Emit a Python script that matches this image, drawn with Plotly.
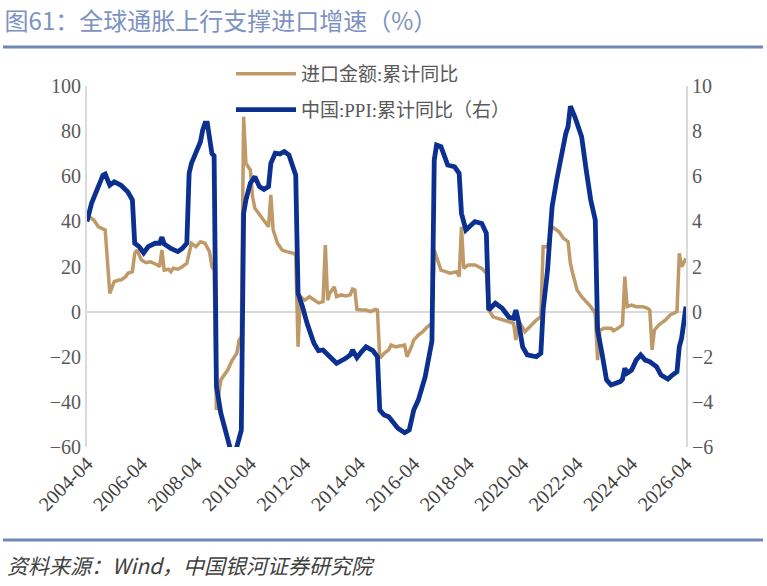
import plotly.graph_objects as go

# ---------------- data ----------------
imp_dates = ["2004-04","2004-07","2004-09","2004-11","2004-12","2005-02","2005-04","2005-06","2005-07","2005-09",
             "2005-10","2005-12","2006-01","2006-02","2006-04","2006-06","2006-08","2006-11","2006-12","2007-01",
             "2007-02","2007-04","2007-05","2007-06","2007-08","2007-10","2007-12","2008-02","2008-04","2008-06",
             "2008-08","2008-10","2008-11","2008-12","2009-01","2009-03","2009-05","2009-06","2009-08","2009-10",
             "2009-11","2009-12","2010-01","2010-02","2010-04","2010-05","2010-06","2010-09","2010-11","2010-12",
             "2011-01","2011-02","2011-04","2011-06","2011-08","2011-11","2011-12","2012-01","2012-02","2012-04",
             "2012-06","2012-08","2012-10","2012-12","2013-01","2013-02","2013-03","2013-05","2013-06","2013-08",
             "2013-10","2013-12","2014-01","2014-02","2014-03","2014-05","2014-07","2014-09","2014-11","2014-12",
             "2015-01","2015-03","2015-05","2015-06","2015-08","2015-12","2016-01","2016-03","2016-04","2016-06",
             "2016-08","2016-10","2016-12","2017-01","2017-03","2017-04","2017-06","2017-08","2017-11","2017-12",
             "2018-01","2018-02","2018-04","2018-07","2018-10","2018-12","2019-01","2019-03","2019-05","2019-08",
             "2019-10","2019-12","2020-01","2020-02","2020-03","2020-05","2020-07","2020-10","2020-12","2021-01",
             "2021-03","2021-05","2021-08","2021-10","2021-12","2022-01","2022-02","2022-04","2022-06","2022-08",
             "2022-10","2022-12","2023-01","2023-02","2023-04","2023-07","2023-08","2023-10","2023-12","2024-01",
             "2024-02","2024-04","2024-06","2024-09","2024-11","2024-12","2025-01","2025-02","2025-04","2025-07",
             "2025-09","2025-12","2026-01","2026-02","2026-03","2026-04"]
imp_vals = [42.8,40.6,37.6,36.9,36.2,8.1,13.3,14.0,14.0,15.5,
            17.0,17.7,25.8,27.3,22.9,21.7,22.1,20.7,19.9,27.3,
            18.4,18.8,17.7,19.2,18.8,19.9,21.4,30.3,28.8,31.0,
            30.3,26.5,19.9,18.5,-43.6,-30.3,-27.4,-25.9,-21.5,-18.5,
            -12.6,-11.1,86.4,65.7,62.8,50.9,45.8,41.4,39.1,37.6,
            51.7,36.2,30.3,27.3,26.6,25.8,25.0,-15.6,6.6,5.1,
            6.6,5.1,3.9,4.4,29.5,5.1,8.1,11.0,6.6,7.4,
            6.9,7.5,10.0,9.6,1.0,0.7,0.7,0.0,1.0,0.7,
            -20.7,-18.5,-17.0,-14.8,-15.6,-14.8,-20.0,-15.6,-12.6,-10.4,
            -8.9,-6.7,-5.2,27.3,21.4,18.4,17.7,17.0,17.7,15.5,
            37.6,19.2,20.7,20.7,19.2,17.0,0.7,-2.3,-3.0,-3.7,
            -4.5,-5.2,-12.6,-4.5,-5.2,-8.9,-6.7,-3.7,-2.3,28.8,
            28.8,37.6,35.4,32.5,31.0,21.4,17.0,9.6,6.6,4.4,
            2.2,-0.8,-21.5,-8.2,-7.4,-7.4,-8.5,-7.4,-5.9,15.5,
            2.2,2.9,2.2,2.2,1.5,0.7,-17.0,-8.2,-5.9,-3.7,
            -1.5,0.0,25.8,19.9,22.1,23.6]

ppi_dates = ["2004-04","2004-06","2004-11","2004-12","2005-02","2005-04","2005-07","2005-10","2005-12","2006-01",
             "2006-03","2006-05","2006-07","2006-10","2006-12","2007-01","2007-02","2007-05","2007-08","2007-10",
             "2007-12","2008-01","2008-02","2008-04","2008-06","2008-07","2008-08","2008-09","2008-11","2008-12",
             "2009-01","2009-03","2009-06","2009-08","2009-10","2009-12","2010-01","2010-02","2010-04","2010-06",
             "2010-08","2010-10","2010-12","2011-01","2011-03","2011-05","2011-07","2011-09","2011-12","2012-01",
             "2012-03","2012-05","2012-08","2012-10","2012-12","2013-03","2013-06","2013-10","2013-12","2014-01",
             "2014-03","2014-05","2014-07","2014-10","2014-12","2015-01","2015-03","2015-05","2015-07","2015-09",
             "2015-12","2016-02","2016-04","2016-06","2016-09","2016-11","2016-12","2017-01","2017-02","2017-04",
             "2017-07","2017-10","2017-12","2018-01","2018-03","2018-07","2018-10","2018-12","2019-01","2019-04",
             "2019-07","2019-10","2019-12","2020-01","2020-02","2020-04","2020-06","2020-10","2020-12","2021-01",
             "2021-03","2021-04","2021-05","2021-07","2021-09","2021-10","2021-11","2021-12","2022-01","2022-03",
             "2022-06","2022-08","2022-10","2022-12","2023-01","2023-03","2023-05","2023-07","2023-09","2023-11",
             "2023-12","2024-01","2024-02","2024-04","2024-06","2024-08","2024-10","2024-12","2025-02","2025-03",
             "2025-05","2025-08","2025-10","2025-12","2026-01","2026-02","2026-03","2026-04"]
ppi_vals = [4.0,4.8,6.05,6.1,5.6,5.75,5.6,5.3,4.95,3.03,
            2.88,2.6,2.88,3.03,3.03,3.3,3.0,2.8,2.66,2.8,
            3.03,6.13,6.57,7.09,7.53,8.05,8.35,8.35,7.02,6.9,
            -3.3,-4.5,-5.7,-6.4,-6.0,-5.25,4.36,4.95,5.69,5.98,
            5.54,5.42,5.54,6.57,7.02,6.99,7.09,6.94,6.05,0.81,
            0.22,-0.52,-1.4,-1.73,-1.7,-2.0,-2.29,-2.07,-1.92,-1.70,
            -2.04,-1.78,-1.56,-1.73,-2.0,-4.36,-4.58,-4.66,-4.88,-5.17,
            -5.37,-5.25,-4.36,-3.92,-2.89,-1.8,-1.3,6.72,7.38,7.31,
            6.5,6.42,6.13,4.36,3.62,3.99,3.91,3.47,0.07,0.37,
            0.15,-0.25,-0.3,0.07,-0.37,-1.56,-1.92,-2.0,-1.85,0.1,
            1.84,3.32,4.65,5.83,7.02,7.5,7.9,8.2,9.1,8.64,
            7.75,6.28,4.95,4.06,-0.82,-1.85,-3.03,-3.25,-3.18,-3.1,
            -3.0,-2.51,-2.73,-2.59,-2.15,-1.92,-2.15,-2.22,-2.37,-2.44,
            -2.81,-2.99,-2.81,-2.66,-1.56,-1.18,-0.52,0.22]

tick_years = ["2004-04","2006-04","2008-04","2010-04","2012-04","2014-04",
              "2016-04","2018-04","2020-04","2022-04","2024-04","2026-04"]

name_imp = "进口金额:累计同比"
name_ppi = "中国:PPI:累计同比（右）"
title_text = "图61：全球通胀上行支撑进口增速（%）"
source_text = "资料来源：Wind，中国银河证券研究院"

# ---------------- figure ----------------
W, H = 767, 586
L, R, T, B = 87, 81, 86, 139
pw, ph = W - L - R, H - T - B

def px_x(x):
    return (x - L) / pw

def px_y(y):
    return (H - B - y) / ph

TAN = "#bf9a68"
BLUE = "#0b3090"
GRID = "#d9d9d9"
TXT = "#595959"
FONT = "Liberation Serif, Noto Sans CJK SC"

fig = go.Figure()
fig.add_trace(go.Scatter(x=[d + "-01" for d in imp_dates], y=imp_vals, name=name_imp,
                         mode="lines", line=dict(color=TAN, width=3.5), legendgroup="a"))
fig.add_trace(go.Scatter(x=[d + "-01" for d in ppi_dates], y=ppi_vals, name=name_ppi,
                         mode="lines", line=dict(color=BLUE, width=4.8), yaxis="y2", legendgroup="b"))

fig.update_layout(
    width=W, height=H,
    margin=dict(l=L, r=R, t=T, b=B),
    paper_bgcolor="white", plot_bgcolor="white",
    font=dict(family=FONT, size=19, color=TXT),
    title=dict(text=title_text, x=0.006, xanchor="left", y=1 - 22 / H, yanchor="middle",
               font=dict(family="Noto Sans CJK SC", size=24, color="#7d92c2")),
    xaxis=dict(type="date", range=["2004-04-01", "2026-04-01"],
               tickvals=[d + "-01" for d in tick_years], ticktext=tick_years,
               tickangle=-45, showgrid=False, zeroline=False, showline=False, ticks="",
               tickfont=dict(family=FONT, size=20, color="#404040")),
    yaxis=dict(range=[-60, 100], dtick=20, showgrid=False, zeroline=True,
               zerolinecolor=GRID, zerolinewidth=2, showline=True, linecolor=GRID, linewidth=2,
               ticks="", tickfont=dict(family=FONT, size=20, color=TXT)),
    yaxis2=dict(range=[-6, 10], dtick=2, overlaying="y", side="right", showgrid=False,
                zeroline=False, showline=True, linecolor=GRID, linewidth=2, ticks="",
                tickfont=dict(family=FONT, size=20, color=TXT)),
    legend=dict(x=px_x(231), y=px_y(55), xanchor="left", yanchor="top",
                bgcolor="rgba(0,0,0,0)", font=dict(family=FONT, size=19, color=TXT),
                tracegroupgap=8, itemwidth=60),
    showlegend=True,
)

# title underline and source overline
for yy in (47, 540):
    fig.add_shape(type="line", xref="paper", yref="paper",
                  x0=px_x(3), x1=px_x(763), y0=px_y(yy), y1=px_y(yy),
                  line=dict(color="#6f88b8", width=3))

fig.add_annotation(text=source_text, xref="paper", yref="paper", x=px_x(5), y=px_y(565),
                   xanchor="left", yanchor="middle", showarrow=False,
                   font=dict(family="Noto Sans CJK SC", size=21, color="#404040", style="italic"))

fig.write_html("out.html")
